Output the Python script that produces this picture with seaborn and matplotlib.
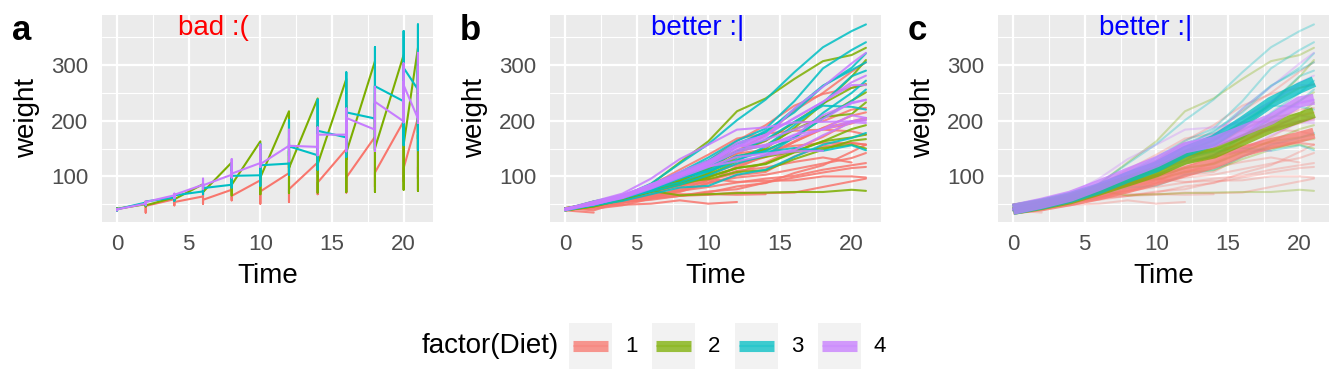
import numpy as np
import pandas as pd
import seaborn as sns
import matplotlib.pyplot as plt
from matplotlib.patches import Rectangle

# Measurement days
times = [0, 2, 4, 6, 8, 10, 12, 14, 16, 18, 20, 21]

# Chick weights, one list per chick (chicks that dropped out have fewer points)
diet1 = [
    [42, 51, 59, 64, 76, 93, 106, 125, 149, 171, 199, 205],
    [40, 49, 58, 72, 84, 103, 122, 138, 162, 187, 209, 215],
    [43, 39, 55, 67, 84, 99, 115, 138, 163, 187, 198, 202],
    [42, 49, 56, 67, 74, 87, 102, 108, 136, 154, 160, 157],
    [41, 42, 48, 60, 79, 106, 141, 164, 197, 199, 220, 223],
    [41, 49, 59, 74, 97, 124, 141, 148, 155, 160, 160, 157],
    [41, 49, 57, 71, 89, 112, 146, 174, 218, 250, 288, 305],
    [42, 50, 61, 71, 84, 93, 110, 116, 126, 134, 125],
    [42, 51, 59, 68, 85, 96, 90, 92, 93, 100, 100, 98],
    [41, 44, 52, 63, 74, 81, 89, 96, 101, 112, 120, 124],
    [43, 51, 63, 84, 112, 139, 168, 177, 182, 184, 181, 175],
    [41, 49, 56, 62, 72, 88, 119, 135, 162, 185, 195, 205],
    [41, 48, 53, 60, 65, 67, 71, 70, 71, 81, 91, 96],
    [41, 49, 62, 79, 101, 128, 164, 192, 227, 248, 259, 266],
    [41, 49, 56, 64, 68, 68, 67, 68],
    [41, 45, 49, 51, 57, 51, 54],
    [42, 51, 61, 72, 83, 89, 98, 103, 113, 123, 133, 142],
    [39, 35],
    [43, 48, 55, 62, 65, 71, 82, 88, 106, 120, 144, 157],
    [41, 47, 54, 58, 65, 73, 77, 89, 98, 107, 115, 117],
]
diet2 = [
    [40, 50, 62, 86, 125, 163, 217, 240, 275, 307, 318, 331],
    [41, 55, 64, 77, 90, 95, 108, 111, 131, 148, 164, 167],
    [43, 52, 61, 73, 90, 103, 127, 135, 145, 163, 170, 175],
    [42, 52, 58, 74, 66, 68, 70, 71, 72, 72, 76, 74],
    [40, 49, 62, 78, 102, 124, 146, 164, 197, 231, 259, 265],
    [42, 48, 57, 74, 93, 114, 136, 147, 169, 205, 236, 251],
    [39, 46, 58, 73, 87, 100, 115, 123, 144, 163, 185, 192],
    [39, 46, 58, 73, 92, 114, 145, 156, 184, 207, 212, 233],
    [39, 48, 59, 74, 87, 106, 134, 150, 187, 230, 279, 309],
    [42, 48, 59, 72, 85, 98, 115, 122, 143, 151, 157, 150],
]
diet3 = [
    [42, 53, 62, 73, 85, 102, 123, 138, 170, 204, 235, 256],
    [41, 49, 65, 82, 107, 129, 159, 179, 221, 263, 291, 305],
    [39, 50, 63, 77, 96, 111, 137, 144, 151, 146, 156, 147],
    [41, 49, 63, 85, 107, 134, 164, 186, 235, 294, 327, 341],
    [41, 53, 64, 87, 123, 158, 201, 238, 287, 332, 361, 373],
    [39, 48, 61, 76, 98, 116, 145, 166, 198, 227, 225, 220],
    [41, 48, 56, 68, 80, 83, 103, 112, 135, 157, 169, 178],
    [41, 49, 61, 74, 98, 109, 128, 154, 192, 232, 280, 290],
    [42, 50, 61, 78, 89, 109, 130, 146, 170, 214, 250, 272],
    [41, 55, 66, 79, 101, 120, 154, 182, 215, 262, 295, 321],
]
diet4 = [
    [42, 51, 66, 85, 103, 124, 155, 153, 175, 184, 199, 204],
    [42, 49, 63, 84, 103, 126, 160, 174, 204, 234, 269, 281],
    [42, 55, 69, 96, 131, 157, 184, 188, 197, 198, 199, 200],
    [42, 51, 65, 86, 103, 118, 127, 138, 145, 146],
    [41, 50, 61, 78, 98, 117, 135, 141, 147, 174, 197, 196],
    [40, 52, 62, 82, 101, 120, 144, 156, 173, 210, 231, 238],
    [41, 53, 66, 79, 100, 123, 148, 157, 168, 185, 210, 205],
    [39, 50, 62, 80, 104, 125, 154, 170, 222, 261, 303, 322],
    [40, 53, 64, 85, 108, 128, 152, 166, 184, 203, 233, 237],
    [41, 54, 67, 84, 105, 122, 155, 175, 205, 234, 264, 264],
]
diet_labels = ['1', '2', '3', '4']
palette = ['#F8766D', '#7CAE00', '#00BFC4', '#C77CFF']

# Long format table
rows = []
chick = 0
for label, chicks in zip(diet_labels, [diet1, diet2, diet3, diet4]):
    for w in chicks:
        chick += 1
        for t, v in zip(times, w):
            rows.append((chick, label, t, v))
df = pd.DataFrame(rows, columns=['Chick', 'Diet', 'Time', 'weight'])

sns.set_theme(style='darkgrid')
plt.rcParams['font.family'] = ['Liberation Sans', 'DejaVu Sans']

fig = plt.figure(figsize=(13.44, 3.84), dpi=100)
W, H = 1344, 384
lefts = [102, 550, 998]
axes = [fig.add_axes([l / W, (H - 222) / H, 331 / W, 207 / H]) for l in lefts]

# a: one line per diet, zig-zags through all chicks
df_a = df.sort_values(['Diet', 'Time'], kind='stable')
sns.lineplot(data=df_a, x='Time', y='weight', hue='Diet', palette=palette,
             estimator=None, sort=False, lw=1.5, legend=False, ax=axes[0])

# b: one line per chick
sns.lineplot(data=df, x='Time', y='weight', hue='Diet', units='Chick', palette=palette,
             estimator=None, lw=1.5, alpha=0.85, legend=False, ax=axes[1])

# c: faded chick lines plus thick diet averages
sns.lineplot(data=df, x='Time', y='weight', hue='Diet', units='Chick', palette=palette,
             estimator=None, lw=1.5, alpha=0.3, legend=False, ax=axes[2])
sns.lineplot(data=df, x='Time', y='weight', hue='Diet', palette=palette,
             estimator='mean', errorbar=None, lw=8, alpha=0.75, solid_capstyle='butt',
             legend=False, ax=axes[2])

titles = [('bad :(', 'red', 0.338), ('better :|', 'blue', 0.447), ('better :|', 'blue', 0.446)]
for ax, letter, (title, col, tx), l in zip(axes, 'abc', titles, lefts):
    ax.set_facecolor('#EBEBEB')
    ax.set_xlim(-1.05, 22.05)
    ax.set_ylim(18.1, 389.9)
    ax.set_xticks([0, 5, 10, 15, 20])
    ax.set_yticks([100, 200, 300])
    ax.set_xticks([2.5, 7.5, 12.5, 17.5], minor=True)
    ax.set_yticks([50, 150, 250, 350], minor=True)
    ax.grid(which='major', color='white', lw=1.6)
    ax.grid(which='minor', color='white', lw=0.8)
    for s in ax.spines.values():
        s.set_visible(False)
    ax.tick_params(which='major', length=5, width=1.3, color='#333333',
                   labelsize=16, labelcolor='#4D4D4D')
    ax.tick_params(axis='x', pad=4)
    ax.tick_params(axis='y', pad=5)
    ax.tick_params(which='minor', length=0)
    ax.set_xlabel('Time', fontsize=20, color='black')
    ax.set_ylabel('weight', fontsize=20, color='black')
    ax.xaxis.set_label_coords(0.5, -0.2)
    ax.yaxis.set_label_coords(-0.187, 0.5)
    ax.text(tx, 0.903, title, color=col, fontsize=20, ha='center', va='baseline',
            transform=ax.transAxes)
    fig.text((l - 90) / W, 1 - 31 / H, letter, fontsize=25, fontweight='bold',
             color='black', va='center', ha='left')

# Legend at the bottom, drawn in pixel coordinates
leg = fig.add_axes([0, 0, 1, 1], zorder=-1)
leg.set_xlim(0, W)
leg.set_ylim(H, 0)
leg.axis('off')
leg.text(422, 346, 'factor(Diet)', fontsize=20, va='center', ha='left', color='black')
for i, (label, c) in enumerate(zip(diet_labels, palette)):
    x0 = 569 + 83 * i
    leg.add_patch(Rectangle((x0, 323), 43, 46, fc='#F2F2F2', ec='none'))
    leg.plot([x0 + 4, x0 + 39], [346, 346], color=c, lw=8, alpha=0.75, solid_capstyle='butt')
    leg.plot([x0 + 4, x0 + 39], [346, 346], color=c, lw=1.5, alpha=0.3, solid_capstyle='butt')
    leg.text(x0 + 56, 347, label, fontsize=16, va='center', ha='left', color='black')

fig.savefig('out.png', dpi=100)
